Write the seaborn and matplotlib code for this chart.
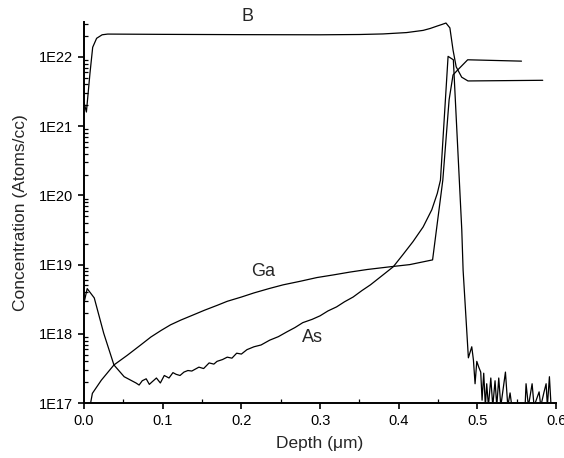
import numpy as np
import matplotlib
matplotlib.use("Agg")
import matplotlib.pyplot as plt
import matplotlib.ticker as mticker
import seaborn as sns

# SIMS depth profiles (depth in um, concentration in atoms/cc)
b_depth = [0.0, 0.003, 0.0076, 0.011, 0.016, 0.023, 0.03, 0.1, 0.2, 0.3, 0.35,
           0.38, 0.41, 0.431, 0.44, 0.449, 0.455, 0.46, 0.465, 0.469, 0.473, 0.48,
           0.488, 0.583]
b_conc = [2.2e21, 1.6e21, 5.9e21, 1.38e22, 1.86e22, 2.09e22, 2.14e22, 2.12e22, 2.10e22,
          2.09e22, 2.11e22, 2.15e22, 2.25e22, 2.42e22, 2.58e22, 2.8e22, 2.95e22, 3.09e22,
          2.63e22, 1.26e22, 7.2e21, 5.1e21, 4.5e21, 4.6e21]

ga_depth = [0.008, 0.0106, 0.022, 0.038, 0.055, 0.072, 0.085, 0.098, 0.11, 0.123,
            0.14, 0.153, 0.17, 0.182, 0.2, 0.216, 0.235, 0.253, 0.275, 0.296, 0.317,
            0.338, 0.36, 0.389, 0.414, 0.443, 0.456, 0.464, 0.469, 0.475, 0.4876, 0.556]
ga_conc = [9.5e16, 1.38e17, 2.14e17, 3.55e17, 4.9e17, 6.9e17, 9.0e17, 1.12e18, 1.35e18,
           1.58e18, 1.9e18, 2.19e18, 2.6e18, 2.95e18, 3.4e18, 3.9e18, 4.5e18, 5.1e18,
           5.75e18, 6.5e18, 7.1e18, 7.8e18, 8.5e18, 9.3e18, 1.0e19, 1.17e19, 1.66e20,
           2.4e21, 5.5e21, 6.5e21, 9.1e21, 8.7e21]

as_depth = [0.0, 0.004, 0.013, 0.025, 0.038, 0.051, 0.066, 0.070, 0.074, 0.079, 0.083,
            0.086, 0.092, 0.097, 0.102, 0.108, 0.113, 0.117, 0.122, 0.127, 0.132, 0.137,
            0.146, 0.152, 0.159, 0.165, 0.169, 0.176, 0.182, 0.188, 0.194, 0.200, 0.207,
            0.216, 0.225, 0.236, 0.247, 0.258, 0.268, 0.278, 0.290, 0.300, 0.310, 0.321,
            0.331, 0.342, 0.353, 0.364, 0.380, 0.393, 0.405, 0.418, 0.431, 0.442, 0.449,
            0.453, 0.4627, 0.4694, 0.4801, 0.4818, 0.4885,
            0.4928, 0.4949, 0.4970, 0.4992, 0.5017, 0.5042, 0.5059, 0.5080, 0.5101,
            0.5118, 0.5140, 0.5170, 0.5195, 0.5224, 0.5246, 0.5271, 0.5297, 0.5356,
            0.5386, 0.5415, 0.5437, 0.5606, 0.5618, 0.5648, 0.5695, 0.5720, 0.5784,
            0.5805, 0.5847, 0.5873, 0.5889, 0.5915, 0.5936]
as_conc = [2.8e18, 4.5e18, 3.3e18, 1.02e18, 3.55e17, 2.4e17, 1.95e17, 1.82e17, 2.1e17,
           2.24e17, 1.86e17, 2.0e17, 2.3e17, 1.95e17, 2.5e17, 2.3e17, 2.75e17, 2.6e17,
           2.5e17, 2.8e17, 2.95e17, 2.9e17, 3.3e17, 3.15e17, 3.8e17, 3.65e17, 4.0e17,
           4.25e17, 4.6e17, 4.45e17, 5.25e17, 5.1e17, 5.9e17, 6.5e17, 6.9e17, 8.1e17,
           9.1e17, 1.07e18, 1.23e18, 1.45e18, 1.62e18, 1.82e18, 2.14e18, 2.45e18, 2.9e18,
           3.4e18, 4.2e18, 5.1e18, 7.1e18, 9.3e18, 1.38e19, 2.14e19, 3.5e19, 6.2e19,
           1.07e20, 1.66e20, 1.02e22, 9.1e21, 3.2e19, 8.3e18, 4.5e17,
           6.5e17, 4.2e17, 1.9e17, 4.0e17, 3.3e17, 2.8e17, 1.1e17, 2.7e17, 9e16,
           1.9e17, 9e16, 2.3e17, 9e16, 2.1e17, 9e16, 2.3e17, 9e16, 2.8e17,
           9e16, 1.4e17, 9e16, 9e16, 1.9e17, 9e16, 1.9e17, 9e16, 1.45e17,
           9e16, 1.45e17, 1.9e17, 9e16, 2.4e17, 9e16]

x_ticks = [0.0, 0.1, 0.2, 0.3, 0.4, 0.5, 0.6]
y_ticks = [1e17, 1e18, 1e19, 1e20, 1e21, 1e22]
y_labels = ["1E17", "1E18", "1E19", "1E20", "1E21", "1E22"]

sns.set_style("ticks")
plt.rcParams['font.family'] = ['Liberation Sans', 'DejaVu Sans']

fig = plt.figure(figsize=(5.64, 4.58), dpi=100)
ax = fig.add_axes([0.149, 0.120, 0.837, 0.832])

for xs, ys in [(b_depth, b_conc), (ga_depth, ga_conc), (as_depth, as_conc)]:
    sns.lineplot(x=xs, y=ys, ax=ax, color='black', linewidth=0.9,
                 estimator=None, sort=False)

ax.set_yscale('log')
ax.set_xlim(0, 0.6)
ax.set_ylim(1e17, 3.2e22)

ax.xaxis.set_major_locator(mticker.FixedLocator(x_ticks))
ax.xaxis.set_minor_locator(mticker.MultipleLocator(0.05))
ax.set_xticklabels([f"{t:.1f}" for t in x_ticks])
ax.yaxis.set_major_locator(mticker.FixedLocator(y_ticks))
ax.yaxis.set_minor_locator(mticker.LogLocator(base=10, subs=np.arange(2, 10)))
ax.yaxis.set_minor_formatter(mticker.NullFormatter())
ax.set_yticklabels(y_labels)

ax.tick_params(which='major', direction='out', length=4, width=1.2, labelsize=10.5,
               color='black', labelcolor='black', pad=4)
ax.tick_params(which='minor', direction='in', length=3, width=0.9, color='black')

sns.despine(ax=ax)
for side in ['left', 'bottom']:
    ax.spines[side].set_linewidth(1.4)
    ax.spines[side].set_color('black')

ax.set_xlabel('Depth (\u03bcm)', fontsize=12.5, labelpad=6)
ax.set_ylabel('Concentration (Atoms/cc)', fontsize=12.5, labelpad=8)

ax.text(0.208, 3.8e22, 'B', fontsize=13, ha='center', va='center', clip_on=False)
ax.text(0.228, 7.9e18, 'Ga', fontsize=13, ha='center', va='center')
ax.text(0.290, 8.9e17, 'As', fontsize=13, ha='center', va='center')

fig.savefig('out.png', dpi=100)
